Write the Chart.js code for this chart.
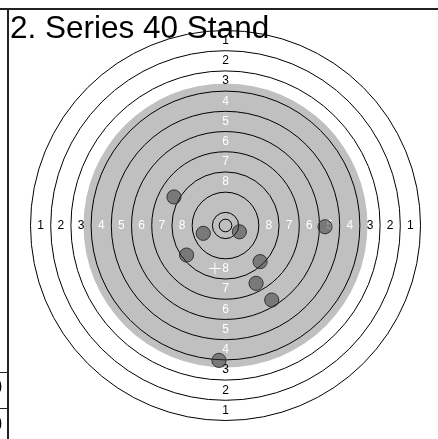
<!DOCTYPE html>
<html>
<head>
<meta charset="utf-8">
<script src="https://cdn.jsdelivr.net/npm/chart.js@4.4.1/dist/chart.umd.min.js"></script>
<style>
  html, body { margin: 0; padding: 0; background: #fff; }
  #wrap { position: relative; width: 438px; height: 439px; overflow: hidden; font-family: "Liberation Sans", Arial, Helvetica, sans-serif; }
  #c { position: absolute; left: 0; top: 0; }
  #title { position: absolute; left: 10px; top: 7px; font-size: 31.5px; line-height: 40px; color: #000; white-space: nowrap; }
  .hline { position: absolute; background: #222; }
  .vline { position: absolute; background: #222; }
  .cell { position: absolute; font-size: 22px; line-height: 24px; color: #000; }
</style>
</head>
<body>
<div id="wrap">
  <canvas id="c" width="438" height="439"></canvas>
  <div class="hline" style="left:0;top:8px;width:438px;height:2px;"></div>
  <div class="vline" style="left:7px;top:8px;width:2px;height:431px;"></div>
  <div class="hline" style="left:0;top:372px;width:8px;height:1px;"></div>
  <div class="hline" style="left:0;top:408px;width:8px;height:1px;"></div>
  <div class="cell" style="left:-10px;top:375px;">0</div>
  <div class="cell" style="left:-10px;top:412px;">0</div>
  <div id="title">2. Series 40 Stand</div>
</div>
<script>
// ---- data (mm, target centre = 0,0) ----
const ringNumbers   = [1, 2, 3, 4, 5, 6, 7, 8, 9, 10];
const ringDiameters = [154.4, 138.4, 122.4, 106.4, 90.4, 74.4, 58.4, 42.4, 26.4, 10.4];
const innerTenDiameter = 5.0;
const blackDiameter = 112.4;
const labelledRings = [1, 2, 3, 4, 5, 6, 7, 8];
const shotX = [-20.4, -8.8, 5.5, -15.4, 13.7, 39.4, 12.1, 18.3, -2.6];
const shotY = [11.3, -3.1, -2.5, -11.7, -14.3, -0.5, -22.9, -29.5, -53.4];
const meanX = [-4.2];
const meanY = [-17.0];
const calibre = 5.6;

// ---- view setup ----
const W = 438, H = 439;
const pxPerMm = 2.526;
const cx = 225.5, cy = 225.5;

const shots = shotX.map((x, i) => ({ x: x, y: shotY[i] }));
const mean = meanX.map((x, i) => ({ x: x, y: meanY[i] }));

function mmToPx(chart, r) {
  const s = chart.scales.x;
  return Math.abs(s.getPixelForValue(r) - s.getPixelForValue(0));
}

const targetPlugin = {
  id: 'target',
  beforeDatasetsDraw(chart) {
    const ctx = chart.ctx;
    const xs = chart.scales.x, ys = chart.scales.y;
    const ox = xs.getPixelForValue(0), oy = ys.getPixelForValue(0);
    ctx.save();
    ctx.fillStyle = '#c0c0c0';
    ctx.beginPath();
    ctx.arc(ox, oy, mmToPx(chart, blackDiameter / 2), 0, Math.PI * 2);
    ctx.fill();
    ctx.strokeStyle = '#000';
    ctx.lineWidth = 1;
    ringDiameters.concat([innerTenDiameter]).forEach(d => {
      ctx.beginPath();
      ctx.arc(ox, oy, mmToPx(chart, d / 2), 0, Math.PI * 2);
      ctx.stroke();
    });
    ctx.font = '12px "Liberation Sans", Arial, Helvetica, sans-serif';
    ctx.textAlign = 'center';
    ctx.textBaseline = 'middle';
    labelledRings.forEach(n => {
      const i = ringNumbers.indexOf(n);
      const rMid = (ringDiameters[i] + ringDiameters[i + 1]) / 4;
      const rp = mmToPx(chart, rMid);
      ctx.fillStyle = (ringDiameters[i] / 2 <= blackDiameter / 2) ? '#fff' : '#000';
      const t = String(n);
      ctx.fillText(t, ox, oy - rp);
      ctx.fillText(t, ox, oy + rp);
      ctx.fillText(t, ox - rp, oy);
      ctx.fillText(t, ox + rp, oy);
    });
    ctx.restore();
  }
};

new Chart(document.getElementById('c'), {
  type: 'scatter',
  data: {
    datasets: [
      {
        label: 'Shots',
        data: shots,
        backgroundColor: 'rgba(50,50,50,0.5)',
        borderColor: '#333',
        borderWidth: 1,
        pointRadius: (c) => mmToPx(c.chart, calibre / 2),
        pointHoverRadius: (c) => mmToPx(c.chart, calibre / 2)
      },
      {
        label: 'Mean',
        data: mean,
        pointStyle: 'cross',
        pointRadius: 6,
        borderColor: '#fff',
        borderWidth: 1,
        backgroundColor: '#fff'
      }
    ]
  },
  options: {
    responsive: false,
    devicePixelRatio: 1,
    animation: false,
    layout: { padding: 0, autoPadding: false },
    plugins: { legend: { display: false }, title: { display: false }, tooltip: { enabled: false } },
    scales: {
      x: { type: 'linear', display: false, min: -cx / pxPerMm, max: (W - cx) / pxPerMm },
      y: { type: 'linear', display: false, min: -(H - cy) / pxPerMm, max: cy / pxPerMm }
    }
  },
  plugins: [targetPlugin]
});
</script>
</body>
</html>
